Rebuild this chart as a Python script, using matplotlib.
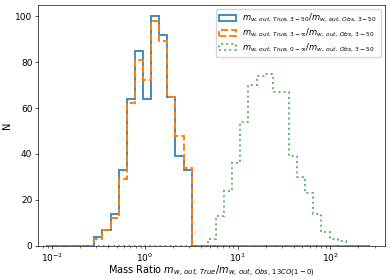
import numpy as np
import matplotlib
matplotlib.use('Agg')
import matplotlib.pyplot as plt

# log-spaced bin edges shared by the three histograms
log_lo = -1.068
log_hi = 2.428
nbins = 40

# counts per bin
counts_true350 = [0]*6 + [4, 7, 14, 33, 64, 85, 64, 100, 92, 65, 39, 33] + [0]*22
counts_true3inf = [0]*6 + [3, 7, 12, 29, 62, 81, 72, 98, 89, 65, 48, 34] + [0]*22
counts_true0inf = [0]*20 + [3, 13, 24, 36, 54, 70, 74, 75, 67, 67, 39, 30, 23, 14, 6, 3, 2] + [0]*3

labels = [r'$m_{w,\,out,\,True,\,3-50}/m_{w,\,out,\,Obs,\,3-50}$',
          r'$m_{w,\,out,\,True,\,3-\infty}/m_{w,\,out,\,Obs,\,3-50}$',
          r'$m_{w,\,out,\,True,\,0-\infty}/m_{w,\,out,\,Obs,\,3-50}$']

edges = np.logspace(log_lo, log_hi, nbins + 1)
centers = np.sqrt(edges[:-1]*edges[1:])

# original figure looks like a ~0.6x downscale, so shrink everything
s = 0.6
plt.rcParams['font.size'] = 10*s
plt.rcParams['axes.linewidth'] = 0.8*s
for a in ('xtick', 'ytick'):
    plt.rcParams[a + '.major.size'] = 3.5*s
    plt.rcParams[a + '.minor.size'] = 2*s
    plt.rcParams[a + '.major.width'] = 0.8*s
    plt.rcParams[a + '.minor.width'] = 0.6*s
    plt.rcParams[a + '.major.pad'] = 3.5*s
    plt.rcParams[a + '.minor.pad'] = 3.4*s
    plt.rcParams[a + '.labelsize'] = 6.5

fig = plt.figure(figsize=(3.9, 2.78), dpi=100)
ax = fig.add_axes([0.098, 0.116, 0.889, 0.867])

ax.hist(centers, bins=edges, weights=counts_true350, histtype='step',
        color='C0', lw=2*s + 0.2, alpha=0.85, label=labels[0])
ax.hist(centers, bins=edges, weights=counts_true3inf, histtype='step',
        color='C1', lw=2*s + 0.2, ls='--', label=labels[1])
ax.hist(centers, bins=edges, weights=counts_true0inf, histtype='step',
        color='C2', lw=2*s + 0.2, ls=':', alpha=0.75, label=labels[2])

ax.set_xscale('log')
ax.set_xlim(10**-1.148, 10**2.587)
ax.set_ylim(0, 105)
ax.set_yticks([0, 20, 40, 60, 80, 100])
ax.set_xlabel(r'Mass Ratio $m_{w,\,out,\,True}/m_{w,\,out,\,Obs,\,13CO(1-0)}$',
              fontsize=7, labelpad=0)
ax.set_ylabel('N', fontsize=7, labelpad=2)
ax.legend(loc='upper right', fontsize=6, labelspacing=0.3, borderpad=0.4)

fig.savefig('out.png', dpi=100)
